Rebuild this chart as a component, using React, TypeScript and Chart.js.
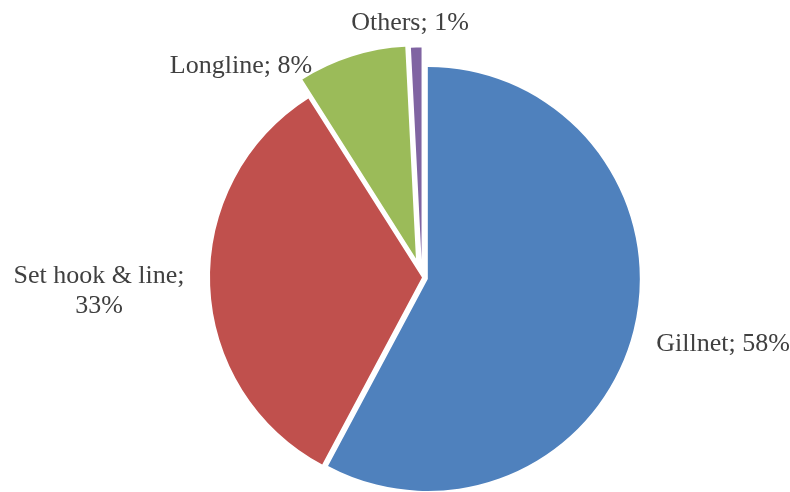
import React, { useEffect, useRef } from "react";
import { Chart, registerables } from "chart.js";

Chart.register(...registerables);

// ---- data ----
const categories = ["Gillnet", "Set hook & line", "Longline", "Others"];
const shares = [57.8, 33.2, 8.2, 0.8];

// ---- styling ----
const colors = ["#4F81BD", "#C0504D", "#9BBB59", "#8064A2"];
const explode = [6, 0, 20, 18]; // px each slice is pulled out along its mid-angle
const labelWrap = [false, true, false, false];
// label text centre x / first baseline y, relative to the pie centre
const labelOffsets = [
  [301, 73],
  [-323, 5],
  [-181, -205],
  [-12, -248],
];
const labelFont = '26px "Liberation Serif", "Times New Roman", serif';
const labelColor = "#404040";

const explodePlugin = {
  id: "explodeSlices",
  beforeDatasetsDraw(chart: any) {
    const meta = chart.getDatasetMeta(0);
    meta.data.forEach((arc: any, i: number) => {
      const mid = (arc.startAngle + arc.endAngle) / 2;
      arc.x += Math.cos(mid) * explode[i];
      arc.y += Math.sin(mid) * explode[i];
    });
  },
  afterDatasetsDraw(chart: any) {
    const meta = chart.getDatasetMeta(0);
    meta.data.forEach((arc: any, i: number) => {
      const mid = (arc.startAngle + arc.endAngle) / 2;
      arc.x -= Math.cos(mid) * explode[i];
      arc.y -= Math.sin(mid) * explode[i];
    });
  },
};

const labelPlugin = {
  id: "sliceLabels",
  afterDraw(chart: any) {
    const { ctx, chartArea } = chart;
    const cx = (chartArea.left + chartArea.right) / 2;
    const cy = (chartArea.top + chartArea.bottom) / 2;
    ctx.save();
    ctx.font = labelFont;
    ctx.fillStyle = labelColor;
    ctx.textAlign = "center";
    ctx.textBaseline = "alphabetic";
    categories.forEach((cat, i) => {
      const pct = Math.round(shares[i]) + "%";
      const lines = labelWrap[i] ? [cat + ";", pct] : [cat + "; " + pct];
      const [dx, dy] = labelOffsets[i];
      lines.forEach((line, j) => {
        ctx.fillText(line, cx + dx, cy + dy + j * 30);
      });
    });
    ctx.restore();
  },
};

export default function App() {
  const ref = useRef<HTMLCanvasElement | null>(null);

  useEffect(() => {
    if (!ref.current) return;
    const chart = new Chart(ref.current, {
      type: "pie",
      data: {
        labels: categories,
        datasets: [
          {
            data: shares,
            backgroundColor: colors,
            borderWidth: 0,
          },
        ],
      },
      options: {
        responsive: false,
        maintainAspectRatio: false,
        animation: false,
        radius: 212,
        layout: { padding: { left: 54, right: 0, top: 63, bottom: 0 } },
        plugins: {
          legend: { display: false },
          tooltip: { enabled: false },
        },
        events: [],
      } as any,
      plugins: [explodePlugin, labelPlugin],
    });
    return () => chart.destroy();
  }, []);

  return (
    <div style={{ position: "fixed", left: 0, top: 0, width: 790, height: 492, background: "#fff" }}>
      <canvas ref={ref} width={790} height={492} />
    </div>
  );
}
